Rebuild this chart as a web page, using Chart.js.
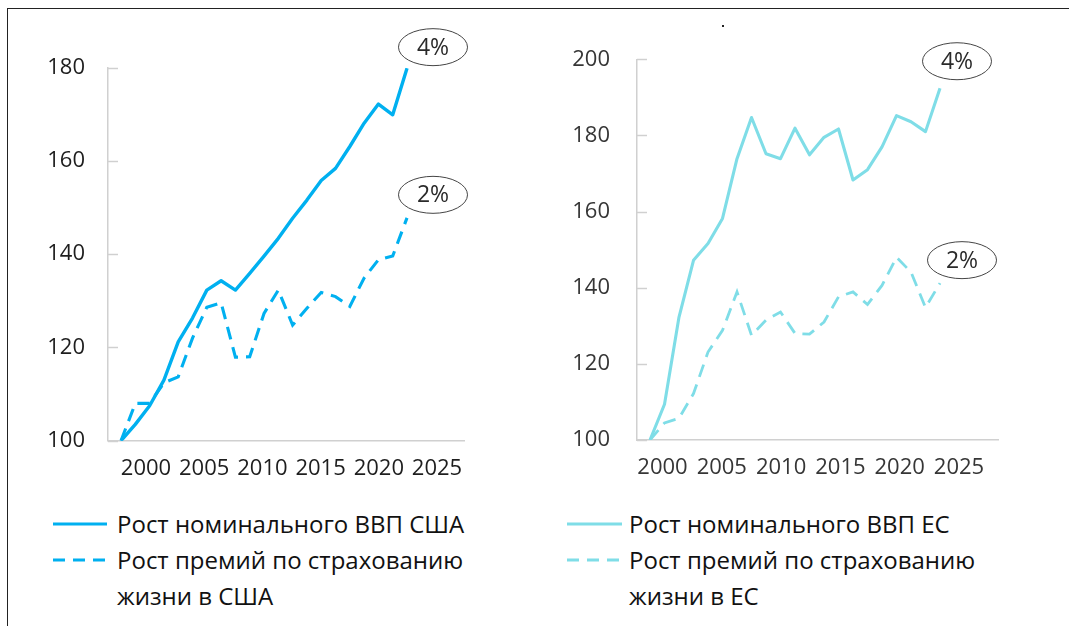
<!DOCTYPE html>
<html>
<head>
<meta charset="utf-8">
<script src="https://cdn.jsdelivr.net/npm/chart.js@4.4.1/dist/chart.umd.min.js"></script>
<style>
    body { margin: 0; background: #fff; width: 1069px; height: 626px; overflow: hidden; position: relative; font-family: 'Open Sans', sans-serif; }
    .frame-top { position: absolute; left: 7px; top: 8px; right: 0; height: 1px; background: #222; }
    .frame-left { position: absolute; left: 7px; top: 8px; bottom: 0; width: 1px; background: #222; }
    .dot { position: absolute; left: 722px; top: 25px; width: 2px; height: 2px; background: #222; }
    canvas { position: absolute; top: 0; }
    #usChart { left: 0; }
    #euChart { left: 534px; }
    .legend { position: absolute; top: 506px; font-size: 24px; line-height: 36px; color: #111; }
    .legend .row { position: relative; white-space: nowrap; }
    .legend svg { position: absolute; left: 0; top: 12px; }
    #usLegend { left: 53px; }
    #usLegend .row { padding-left: 64px; }
    #euLegend { left: 567px; }
    #euLegend .row { padding-left: 62px; }
</style>
</head>
<body>
<div class="frame-top"></div>
<div class="frame-left"></div>
<div class="dot"></div>
<canvas id="usChart" width="534" height="490"></canvas>
<canvas id="euChart" width="535" height="490"></canvas>

<div class="legend" id="usLegend">
    <div class="row"><svg width="56" height="12"><line x1="0" y1="6" x2="54" y2="6" stroke="#00B0F0" stroke-width="3"/></svg>Рост номинального ВВП США</div>
    <div class="row"><svg width="56" height="12"><line x1="0" y1="6" x2="54" y2="6" stroke="#00B0F0" stroke-width="3" stroke-dasharray="12 8"/></svg>Рост премий по страхованию<br>жизни в США</div>
</div>
<div class="legend" id="euLegend">
    <div class="row"><svg width="56" height="12"><line x1="0" y1="6" x2="55" y2="6" stroke="#7FDDE7" stroke-width="3"/></svg>Рост номинального ВВП ЕС</div>
    <div class="row"><svg width="56" height="12"><line x1="0" y1="6" x2="55" y2="6" stroke="#7FDDE7" stroke-width="3" stroke-dasharray="12 8"/></svg>Рост премий по страхованию<br>жизни в ЕС</div>
</div>

<script>
// ---- data (index, first year = 100) ----
const YEARS = [2002, 2003, 2004, 2005, 2006, 2007, 2008, 2009, 2010, 2011, 2012,
               2013, 2014, 2015, 2016, 2017, 2018, 2019, 2020, 2021, 2022];
const X_TICKS = [2000, 2005, 2010, 2015, 2020, 2025];

const US_GDP = [100, 103.5, 107.5, 113, 121.2, 126.3, 132.3, 134.3, 132.3, 135.9, 139.6,
                143.4, 147.7, 151.6, 155.8, 158.4, 163.1, 168.1, 172.2, 169.9, 179.9];
const US_PREMIUMS = [100, 108, 108, 112.4, 113.7, 122, 128.6, 129.6, 117.9, 118, 127.3,
                     132.3, 124.8, 128.4, 131.8, 130.9, 128.8, 134.9, 138.8, 139.6, 147.8];
const US_Y_TICKS = [100, 120, 140, 160, 180];

const EU_GDP = [100, 109.4, 132.3, 147.2, 151.6, 158.2, 173.9, 184.7, 175.2, 173.9, 181.9,
                174.9, 179.5, 181.7, 168.3, 171, 177, 185.2, 183.6, 181, 192.4];
const EU_PREMIUMS = [100, 104.5, 105.7, 112.2, 123.1, 128.8, 138.9, 127.5, 131.5, 133.6, 128,
                     127.8, 131, 137.6, 138.9, 135.6, 140.6, 148, 144.1, 134.8, 141.2];
const EU_Y_TICKS = [100, 120, 140, 160, 180, 200];

const GROWTH_NOTES = ['4%', '2%'];

const FONT = "'Open Sans', sans-serif";

function pairs(values) {
    return values.map((v, i) => ({ x: YEARS[i], y: v }));
}

// short tick marks drawn inside the plot, to the right of the y axis
const innerTicks = {
    id: 'innerTicks',
    beforeDatasetsDraw(chart) {
        const y = chart.scales.y;
        const left = chart.chartArea.left;
        const ctx = chart.ctx;
        ctx.save();
        ctx.strokeStyle = '#d0d0d0';
        ctx.lineWidth = 1.5;
        y.ticks.forEach(t => {
            const py = Math.round(y.getPixelForValue(t.value)) + 0.5;
            ctx.beginPath();
            ctx.moveTo(left, py);
            ctx.lineTo(left + 10, py);
            ctx.stroke();
        });
        ctx.restore();
    }
};

// oval labels next to the last point of each series
const growthNotes = {
    id: 'growthNotes',
    afterDatasetsDraw(chart, args, opts) {
        const ctx = chart.ctx;
        ctx.save();
        opts.items.forEach(it => {
            const meta = chart.getDatasetMeta(it.dataset);
            const pt = meta.data[meta.data.length - 1];
            const cx = pt.x + it.dx;
            const cy = pt.y + it.dy;
            ctx.beginPath();
            ctx.ellipse(cx, cy, 34.5, 18.5, 0, 0, Math.PI * 2);
            ctx.fillStyle = '#fff';
            ctx.fill();
            ctx.strokeStyle = '#444';
            ctx.lineWidth = 1;
            ctx.stroke();
            ctx.fillStyle = '#2a2a2a';
            ctx.font = '23px ' + FONT;
            ctx.textAlign = 'center';
            ctx.textBaseline = 'middle';
            ctx.fillText(it.text, cx, cy + 1);
        });
        ctx.restore();
    }
};

function buildChart(id, c) {
    const ctx = document.getElementById(id).getContext('2d');
    return new Chart(ctx, {
        type: 'line',
        data: {
            datasets: [
                {
                    label: c.gdpLabel,
                    data: pairs(c.gdp),
                    xAxisID: 'xd',
                    borderColor: c.color,
                    borderWidth: c.width,
                    borderJoinStyle: 'round',
                    pointRadius: 0,
                    tension: 0
                },
                {
                    label: c.premLabel,
                    data: pairs(c.premiums),
                    xAxisID: 'xd',
                    borderColor: c.color,
                    borderWidth: c.width - 0.3,
                    borderDash: [13, 8],
                    pointRadius: 0,
                    tension: 0
                }
            ]
        },
        options: {
            responsive: false,
            animation: false,
            events: [],
            layout: { padding: c.padding },
            plugins: {
                legend: { display: false },
                tooltip: { enabled: false },
                growthNotes: { items: c.notes }
            },
            scales: {
                x: {
                    type: 'linear',
                    min: c.xMin,
                    max: c.xMax,
                    afterBuildTicks: s => { s.ticks = X_TICKS.map(v => ({ value: v })); },
                    afterFit: s => { s.height = 40; },
                    ticks: {
                        callback: v => String(v),
                        color: c.textColor,
                        font: { family: FONT, size: 22 },
                        padding: 7,
                        maxRotation: 0,
                        autoSkip: false
                    },
                    grid: { display: false },
                    border: { display: true, color: '#d0d0d0', width: 1.5 }
                },
                xd: {
                    type: 'linear',
                    display: false,
                    min: c.dMin,
                    max: c.dMax
                },
                y: {
                    min: c.yTicks[0],
                    max: c.yTicks[c.yTicks.length - 1],
                    afterBuildTicks: s => { s.ticks = c.yTicks.map(v => ({ value: v })); },
                    afterFit: s => { s.width = c.yWidth; },
                    ticks: {
                        color: c.textColor,
                        font: { family: FONT, size: 22 },
                        padding: c.yPad
                    },
                    grid: { display: false },
                    border: { display: true, color: '#d0d0d0', width: 1.5 }
                }
            }
        },
        plugins: [innerTicks, growthNotes]
    });
}

buildChart('usChart', {
    gdpLabel: 'Рост номинального ВВП США',
    premLabel: 'Рост премий по страхованию жизни в США',
    gdp: US_GDP,
    premiums: US_PREMIUMS,
    yTicks: US_Y_TICKS,
    color: '#00B0F0',
    textColor: '#1e1e1e',
    width: 3.4,
    padding: { left: 0, top: 67.7, right: 70, bottom: 9.3 },
    yWidth: 108,
    yPad: 15,
    xMin: 1996.735, xMax: 2027.32,
    dMin: 2001.09, dMax: 2025.985,
    notes: [
        { dataset: 0, text: GROWTH_NOTES[0], dx: 26, dy: -21 },
        { dataset: 1, text: GROWTH_NOTES[1], dx: 26, dy: -23 }
    ]
});

buildChart('euChart', {
    gdpLabel: 'Рост номинального ВВП ЕС',
    premLabel: 'Рост премий по страхованию жизни в ЕС',
    gdp: EU_GDP,
    premiums: EU_PREMIUMS,
    yTicks: EU_Y_TICKS,
    color: '#7FDDE7',
    textColor: '#363636',
    width: 3.1,
    padding: { left: 0, top: 59.3, right: 71, bottom: 10 },
    yWidth: 103,
    yPad: 19,
    xMin: 1997.85, xMax: 2028.29,
    dMin: 2001.103, dMax: 2026.0,
    notes: [
        { dataset: 0, text: GROWTH_NOTES[0], dx: 17, dy: -27 },
        { dataset: 1, text: GROWTH_NOTES[1], dx: 22, dy: -23 }
    ]
});
</script>
</body>
</html>
